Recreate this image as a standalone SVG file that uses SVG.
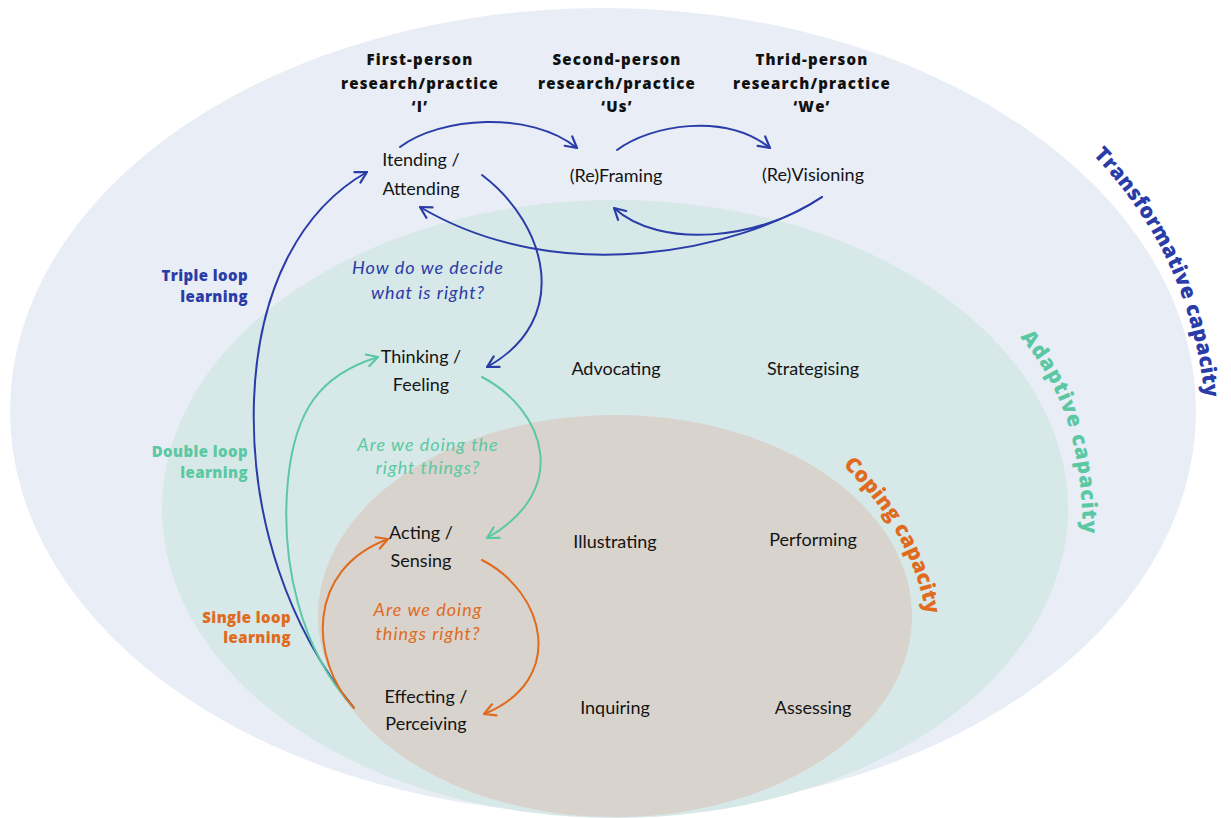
<svg xmlns="http://www.w3.org/2000/svg" width="1231" height="818" viewBox="0 0 1231 818">
  <style>
    .node { font-family: Lato, "Open Sans", sans-serif; font-size: 18px; fill: #141414; text-anchor: middle; }
    .head { font-family: "Open Sans", Lato, sans-serif; font-size: 15px; font-weight: 800; fill: #111; text-anchor: middle; letter-spacing: 1.2px; }
    .q { font-family: Lato, "Open Sans", sans-serif; font-size: 18px; font-style: italic; text-anchor: middle; letter-spacing: 1px; }
    .loop { font-family: "Open Sans", Lato, sans-serif; font-size: 15px; font-weight: 800; text-anchor: end; letter-spacing: 0.4px; }
    .cap { font-family: "Open Sans", Lato, sans-serif; font-size: 21px; font-weight: 800; letter-spacing: 1px; }
    .blue { fill: #2a3ca8; }
    .teal { fill: #5cc8a3; }
    .orange { fill: #e06b1e; }
    .c { fill: none; stroke-width: 2; stroke-linecap: round; }
    .cb { stroke: #2a3ca8; marker-end: url(#ah-blue); }
    .ct { stroke: #5cc8a3; marker-end: url(#ah-teal); }
    .co { stroke: #e06b1e; marker-end: url(#ah-orange); }
  </style>
  <defs>
    <marker id="ah-blue" viewBox="0 0 16 16" refX="14" refY="8" markerWidth="16" markerHeight="16" markerUnits="userSpaceOnUse" orient="auto">
      <path d="M3,2 L14,8 L3,14" fill="none" stroke="#2a3ca8" stroke-width="2.2" stroke-linecap="round" stroke-linejoin="round"/>
    </marker>
    <marker id="ah-teal" viewBox="0 0 16 16" refX="14" refY="8" markerWidth="16" markerHeight="16" markerUnits="userSpaceOnUse" orient="auto">
      <path d="M3,2 L14,8 L3,14" fill="none" stroke="#5cc8a3" stroke-width="2.2" stroke-linecap="round" stroke-linejoin="round"/>
    </marker>
    <marker id="ah-orange" viewBox="0 0 16 16" refX="14" refY="8" markerWidth="16" markerHeight="16" markerUnits="userSpaceOnUse" orient="auto">
      <path d="M3,2 L14,8 L3,14" fill="none" stroke="#e06b1e" stroke-width="2.2" stroke-linecap="round" stroke-linejoin="round"/>
    </marker>
    <path id="p-transform" d="M1093,155 C1150,215 1195,290 1206,410"/>
    <path id="p-adaptive" d="M1020,337 C1060,385 1083,440 1083,545"/>
    <path id="p-coping" d="M843,465 C887,510 917,555 928,625"/>
  </defs>

  <rect width="1231" height="818" fill="#ffffff"/>

  <!-- capacity zones -->
  <g id="zones">
    <ellipse id="zone-transformative" cx="603" cy="411" rx="593" ry="403" fill="#e8edf6"/>
    <ellipse id="zone-adaptive" cx="615" cy="509" rx="453" ry="309" fill="#d7e8e8"/>
    <ellipse id="zone-coping" cx="615" cy="616" rx="297" ry="201" fill="#d8d3cd"/>
  </g>

  <g id="zone-labels">
    <text class="cap blue" style="letter-spacing:0.3px"><textPath href="#p-transform">Transformative capacity</textPath></text>
    <text class="cap teal"><textPath href="#p-adaptive">Adaptive capacity</textPath></text>
    <text class="cap orange" style="letter-spacing:0.2px"><textPath href="#p-coping">Coping capacity</textPath></text>
  </g>

  <!-- column headings -->
  <g id="headings">
    <g id="head-first">
      <text class="head" x="420" y="65">First-person</text>
      <text class="head" x="420" y="89">research/practice</text>
      <text class="head" x="420" y="112">‘I’</text>
    </g>
    <g id="head-second">
      <text class="head" x="617" y="65">Second-person</text>
      <text class="head" x="617" y="89">research/practice</text>
      <text class="head" x="617" y="112">‘Us’</text>
    </g>
    <g id="head-third">
      <text class="head" x="812" y="65">Thrid-person</text>
      <text class="head" x="812" y="89">research/practice</text>
      <text class="head" x="812" y="112">‘We’</text>
    </g>
  </g>

  <!-- connectors -->
  <g id="connectors">
    <path id="e-itending-framing" class="c cb" d="M400,147 C440,117 530,110 577,148"/>
    <path id="e-framing-visioning" class="c cb" d="M617,150 C650,125 725,112 770,148"/>
    <path id="e-visioning-framing" class="c cb" d="M822,197 C760,240 660,250 614,208"/>
    <path id="e-visioning-attending" class="c cb" d="M822,197 C740,250 560,290 420,207"/>
    <path id="e-attending-thinking" class="c cb" d="M482,175 C548,225 572,320 487,367"/>
    <path id="e-triple-loop" class="c cb" d="M354,708 C290,630 250,520 254,400 C258,290 300,210 367,172"/>
    <path id="e-feeling-acting" class="c ct" d="M482,377 C545,410 572,490 487,538"/>
    <path id="e-double-loop" class="c ct" d="M354,708 C300,650 280,560 288,480 C295,410 320,375 378,357"/>
    <path id="e-sensing-perceiving" class="c co" d="M482,560 C545,592 568,680 484,714"/>
    <path id="e-single-loop" class="c co" d="M354,708 C310,660 305,570 388,539"/>
  </g>

  <!-- nodes -->
  <g id="n-itending"><text class="node" x="421" y="166">Itending /</text><text class="node" x="421" y="195">Attending</text></g>
  <g id="n-framing"><text class="node" x="616" y="182">(Re)Framing</text></g>
  <g id="n-visioning"><text class="node" x="813" y="181">(Re)Visioning</text></g>
  <g id="n-thinking"><text class="node" x="421" y="363">Thinking /</text><text class="node" x="421" y="391">Feeling</text></g>
  <g id="n-advocating"><text class="node" x="616" y="375">Advocating</text></g>
  <g id="n-strategising"><text class="node" x="813" y="375">Strategising</text></g>
  <g id="n-acting"><text class="node" x="421" y="539">Acting /</text><text class="node" x="421" y="567">Sensing</text></g>
  <g id="n-illustrating"><text class="node" x="615" y="548">Illustrating</text></g>
  <g id="n-performing"><text class="node" x="813" y="546">Performing</text></g>
  <g id="n-effecting"><text class="node" x="426" y="703">Effecting /</text><text class="node" x="426" y="730">Perceiving</text></g>
  <g id="n-inquiring"><text class="node" x="615" y="714">Inquiring</text></g>
  <g id="n-assessing"><text class="node" x="813" y="714">Assessing</text></g>

  <!-- loop questions -->
  <g id="questions">
    <text class="q blue" x="428" y="274">How do we decide</text>
    <text class="q blue" x="428" y="299">what is right?</text>
    <text class="q teal" x="428" y="451">Are we doing the</text>
    <text class="q teal" x="428" y="474">right things?</text>
    <text class="q orange" x="428" y="616">Are we doing</text>
    <text class="q orange" x="428" y="640">things right?</text>
  </g>

  <!-- loop labels -->
  <g id="loop-labels">
    <text class="loop blue" x="248" y="281">Triple loop</text>
    <text class="loop blue" x="248" y="302">learning</text>
    <text class="loop teal" x="248" y="457">Double loop</text>
    <text class="loop teal" x="248" y="478">learning</text>
    <text class="loop orange" x="291" y="623">Single loop</text>
    <text class="loop orange" x="291" y="643">learning</text>
  </g>
</svg>
